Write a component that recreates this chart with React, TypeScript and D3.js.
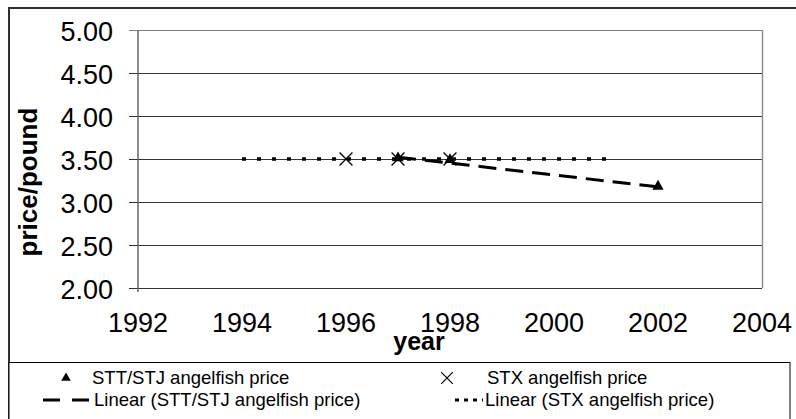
import * as d3 from "d3";
import React from "react";

// 年 (x軸の目盛り)
const xTickYears = [1992, 1994, 1996, 1998, 2000, 2002, 2004];
// 価格 (y軸の目盛り)
const yTickPrices = [2.0, 2.5, 3.0, 3.5, 4.0, 4.5, 5.0];

// STT/STJ
const sttYears = [1997, 1998, 2002];
const sttPrices = [3.5, 3.48, 3.17];

// STX
const stxYears = [1996, 1997, 1998];
const stxPrices = [3.5, 3.5, 3.5];

// STXのトレンドライン予測 (後方2年, 前方3年)
const stxBackward = 2;
const stxForward = 3;

const legendLabels = [
  "STT/STJ angelfish price",
  "STX angelfish price",
  "Linear (STT/STJ angelfish price)",
  "Linear (STX angelfish price)",
];

function linearFit(xs: number[], ys: number[]) {
  const mx = d3.mean(xs) || 0;
  const my = d3.mean(ys) || 0;
  let sxy = 0;
  let sxx = 0;
  xs.forEach((x, i) => {
    sxy += (x - mx) * (ys[i] - my);
    sxx += (x - mx) * (x - mx);
  });
  const slope = sxx ? sxy / sxx : 0;
  return (x: number) => my + slope * (x - mx);
}

function AngelfishChart() {
  const ref = React.useRef<SVGSVGElement>(null);

  React.useEffect(() => {
    if (!ref.current) return;
    const svg = d3.select(ref.current);
    svg.selectAll("*").remove();

    const font = "'Liberation Sans', Arial, sans-serif";
    const x = d3.scaleLinear().domain([1992, 2004]).range([138, 762]);
    const y = d3.scaleLinear().domain([2, 5]).range([288, 30]);

    // 外枠
    svg
      .append("rect")
      .attr("x", 9)
      .attr("y", 8)
      .attr("width", 820)
      .attr("height", 440)
      .attr("fill", "white")
      .attr("stroke", "#303030")
      .attr("stroke-width", 2);

    // グリッド線
    svg
      .append("g")
      .selectAll("line")
      .data(yTickPrices)
      .enter()
      .append("line")
      .attr("x1", 129)
      .attr("x2", 762)
      .attr("y1", (d) => Math.round(y(d)) + 0.5)
      .attr("y2", (d) => Math.round(y(d)) + 0.5)
      .attr("stroke", (d) => (d === 5 ? "#808080" : "#333"))
      .attr("stroke-width", 1);

    // 右枠とY軸
    svg
      .append("line")
      .attr("x1", 762.5)
      .attr("x2", 762.5)
      .attr("y1", 30)
      .attr("y2", 288)
      .attr("stroke", "#909090")
      .attr("stroke-width", 1.5);
    svg
      .append("line")
      .attr("x1", 138)
      .attr("x2", 138)
      .attr("y1", 30)
      .attr("y2", 292)
      .attr("stroke", "#666")
      .attr("stroke-width", 1.5);

    // Y軸ラベル
    svg
      .append("g")
      .selectAll("text")
      .data(yTickPrices)
      .enter()
      .append("text")
      .attr("x", 113)
      .attr("y", (d) => y(d) + 11)
      .attr("text-anchor", "end")
      .attr("font-family", font)
      .attr("font-size", 27)
      .text((d) => d.toFixed(2));

    // X軸ラベル
    svg
      .append("g")
      .selectAll("text")
      .data(xTickYears)
      .enter()
      .append("text")
      .attr("x", (d) => x(d))
      .attr("y", 332)
      .attr("text-anchor", "middle")
      .attr("font-family", font)
      .attr("font-size", 27)
      .text((d) => String(d));

    // 軸タイトル
    svg
      .append("text")
      .attr("x", 419)
      .attr("y", 350)
      .attr("text-anchor", "middle")
      .attr("font-family", font)
      .attr("font-weight", "bold")
      .attr("font-size", 25)
      .text("year");
    svg
      .append("text")
      .attr("transform", "translate(37,182) rotate(-90)")
      .attr("text-anchor", "middle")
      .attr("font-family", font)
      .attr("font-weight", "bold")
      .attr("font-size", 26)
      .text("price/pound");

    // トレンドライン
    const line = d3
      .line<number[]>()
      .x((d) => x(d[0]))
      .y((d) => y(d[1]));

    const sttFit = linearFit(sttYears, sttPrices);
    const sttX0 = d3.min(sttYears) || 0;
    const sttX1 = d3.max(sttYears) || 0;
    svg
      .append("path")
      .datum([
        [sttX0, sttFit(sttX0)],
        [sttX1, sttFit(sttX1)],
      ])
      .attr("fill", "none")
      .attr("stroke", "#000")
      .attr("stroke-width", 3)
      .attr("stroke-dasharray", "18 9")
      .attr("d", line);

    const stxFit = linearFit(stxYears, stxPrices);
    const stxX0 = (d3.min(stxYears) || 0) - stxBackward;
    const stxX1 = (d3.max(stxYears) || 0) + stxForward;
    svg
      .append("path")
      .datum([
        [stxX0, stxFit(stxX0)],
        [stxX1, stxFit(stxX1)],
      ])
      .attr("fill", "none")
      .attr("stroke", "#000")
      .attr("stroke-width", 3.5)
      .attr("stroke-dasharray", "4 11")
      .attr("d", line);

    // マーカー
    const tri = d3.symbol().type(d3.symbolTriangle).size(55);
    svg
      .append("g")
      .selectAll("path")
      .data(sttYears)
      .enter()
      .append("path")
      .attr("d", tri)
      .attr("transform", (d, i) => `translate(${x(d)},${y(sttPrices[i]) - 1})`)
      .attr("fill", "#000");

    const cross = d3.symbol().type(d3.symbolX).size(110);
    svg
      .append("g")
      .selectAll("path")
      .data(stxYears)
      .enter()
      .append("path")
      .attr("d", cross)
      .attr("transform", (d, i) => `translate(${x(d)},${y(stxPrices[i])})`)
      .attr("fill", "none")
      .attr("stroke", "#000")
      .attr("stroke-width", 1.3);

    // 凡例
    const lg = svg.append("g");
    lg.append("rect")
      .attr("x", 9)
      .attr("y", 362.5)
      .attr("width", 781)
      .attr("height", 80)
      .attr("fill", "white")
      .attr("stroke", "#000")
      .attr("stroke-width", 1);

    const rows = [
      { tx: 92, ty: 384 },
      { tx: 487, ty: 384 },
      { tx: 94, ty: 406 },
      { tx: 485, ty: 406 },
    ];
    lg.selectAll("text")
      .data(legendLabels)
      .enter()
      .append("text")
      .attr("x", (_, i) => rows[i].tx)
      .attr("y", (_, i) => rows[i].ty)
      .attr("font-family", font)
      .attr("font-size", 18.5)
      .text((d) => d);

    lg.append("path")
      .attr("d", d3.symbol().type(d3.symbolTriangle).size(40))
      .attr("transform", "translate(66,378)")
      .attr("fill", "#000");
    lg.append("path")
      .attr("d", d3.symbol().type(d3.symbolX).size(90))
      .attr("transform", "translate(447,378)")
      .attr("fill", "none")
      .attr("stroke", "#000")
      .attr("stroke-width", 1.2);
    lg.append("line")
      .attr("x1", 43)
      .attr("x2", 89)
      .attr("y1", 400)
      .attr("y2", 400)
      .attr("stroke", "#000")
      .attr("stroke-width", 3)
      .attr("stroke-dasharray", "17 12");
    lg.append("line")
      .attr("x1", 455)
      .attr("x2", 483)
      .attr("y1", 400)
      .attr("y2", 400)
      .attr("stroke", "#000")
      .attr("stroke-width", 3)
      .attr("stroke-dasharray", "4 5");
  }, []);

  return (
    <svg
      ref={ref}
      width={796}
      height={419}
      style={{ position: "absolute", left: 0, top: 0, background: "white" }}
    />
  );
}

export default function App() {
  return <AngelfishChart />;
}
